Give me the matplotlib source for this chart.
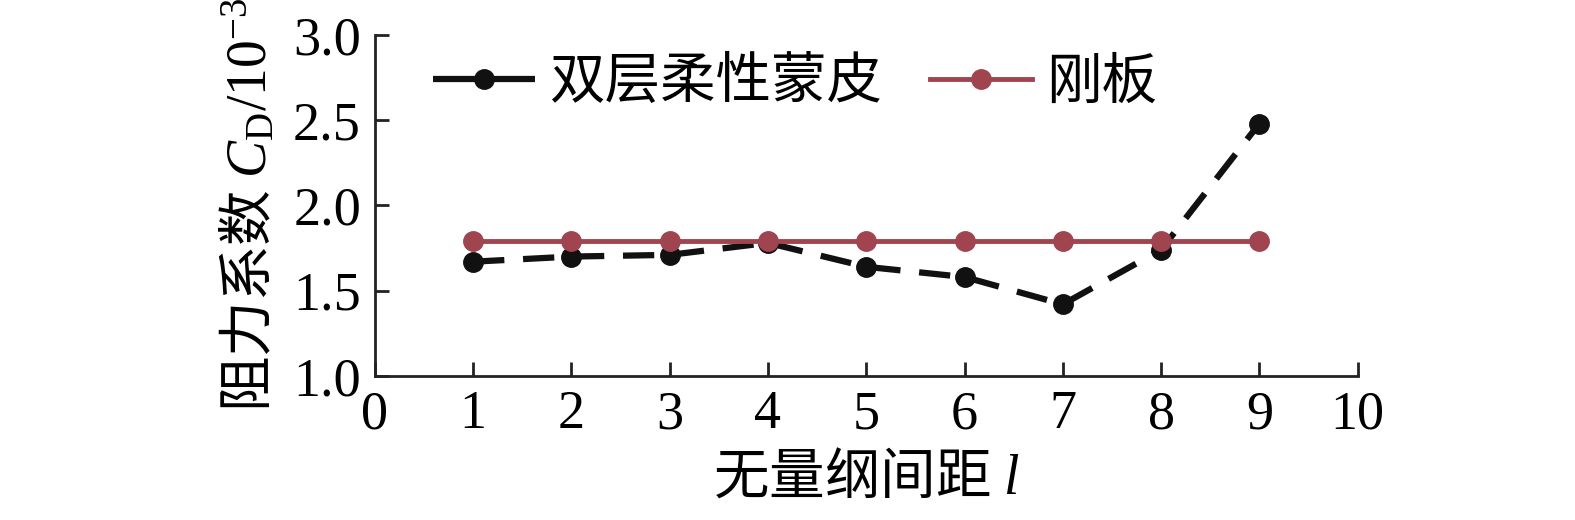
import matplotlib
matplotlib.use("Agg")
import matplotlib.pyplot as plt
from matplotlib.lines import Line2D

# data
spacing = [1, 2, 3, 4, 5, 6, 7, 8, 9]
cd_flexible = [1.67, 1.70, 1.71, 1.78, 1.64, 1.58, 1.42, 1.74, 2.48]
cd_rigid = [1.79, 1.79, 1.79, 1.79, 1.79, 1.79, 1.79, 1.79, 1.79]
labels = ["双层柔性蒙皮", "刚板"]

BLACK = "#111111"
RED = "#A0444F"

plt.rcParams["font.family"] = ["Liberation Serif", "Noto Sans CJK SC"]
# mathtext labels: plain parts use the text's own font (CJK),
# latin letters/digits are set with \mathsf / \mathit
plt.rcParams["mathtext.fontset"] = "custom"
plt.rcParams["mathtext.rm"] = "Liberation Serif"
plt.rcParams["mathtext.sf"] = "Liberation Serif"
plt.rcParams["mathtext.it"] = "Liberation Serif:italic"

fig = plt.figure(figsize=(15.75, 5.2), dpi=100)
ax = fig.add_axes([0.238, 0.277, 0.624, 0.656])

ax.plot(spacing, cd_flexible, color=BLACK, lw=4.5, dashes=(5, 3),
        marker="o", ms=14)
ax.plot(spacing, cd_rigid, color=RED, lw=3.5, marker="o", ms=14)

ax.set_xlim(0, 10)
ax.set_ylim(1.0, 3.0)
ax.set_xticks(range(0, 11))
ax.set_yticks([1.0, 1.5, 2.0, 2.5, 3.0])
ax.set_yticklabels(["1.0", "1.5", "2.0", "2.5", "3.0"])

for side in ["top", "right"]:
    ax.spines[side].set_visible(False)
for side in ["left", "bottom"]:
    ax.spines[side].set_linewidth(2)
    ax.spines[side].set_color("#222222")
ax.tick_params(direction="in", length=10, width=2, color="#222222",
               labelsize=39, pad=10)

ax.set_xlabel(r"无量纲间距 $\mathit{l}$", fontsize=40, labelpad=6,
              fontfamily="Noto Sans CJK SC")
ax.set_ylabel(r"阻力系数 $\mathit{C}_\mathsf{D}\mathsf{/10}^{\mathsf{-3}}$",
              fontsize=40, labelpad=10, fontfamily="Noto Sans CJK SC")

# legend proxies: the dashed line looks almost solid in the short handle
handles = [
    Line2D([], [], color=BLACK, lw=4.5, dashes=(7.5, 1.5), marker="o", ms=14),
    Line2D([], [], color=RED, lw=3.5, marker="o", ms=14),
]
ax.legend(handles, labels, loc="upper left", bbox_to_anchor=(0.008, 1.078),
          ncol=2, frameon=False, fontsize=40, handlelength=1.85,
          columnspacing=0.85, handletextpad=0.25)

fig.savefig("out.png", dpi=100)
